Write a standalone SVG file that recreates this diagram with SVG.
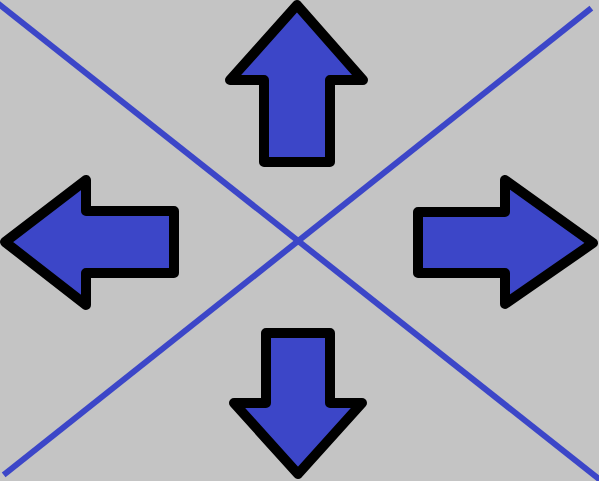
<svg xmlns="http://www.w3.org/2000/svg" width="599" height="481" viewBox="0 0 599 481">
<style>
.arrow{fill:#3c46c8;stroke:#000;stroke-width:10;stroke-linejoin:round}
.line{stroke:#3c46c8;stroke-width:6;fill:none;stroke-linecap:square}
</style>
<rect width="599" height="481" fill="#c4c4c4"/>
<g id="connectors">
<line class="line" x1="0" y1="5" x2="599" y2="479"/>
<line class="line" x1="6" y1="473" x2="589" y2="10"/>
</g>
<g id="arrow-up"><polygon class="arrow" points="297,5 363,80 330,80 330,162 264,162 264,80 230,80"/></g>
<g id="arrow-left"><polygon class="arrow" points="5,242 86,180 86,211 174,211 174,273 86,273 86,305"/></g>
<g id="arrow-right"><polygon class="arrow" points="593,243 505,180 505,212 418,212 418,273 505,273 505,304"/></g>
<g id="arrow-down"><polygon class="arrow" points="298,474 362,403 330,403 330,333 266,333 266,403 234,403"/></g>
</svg>
